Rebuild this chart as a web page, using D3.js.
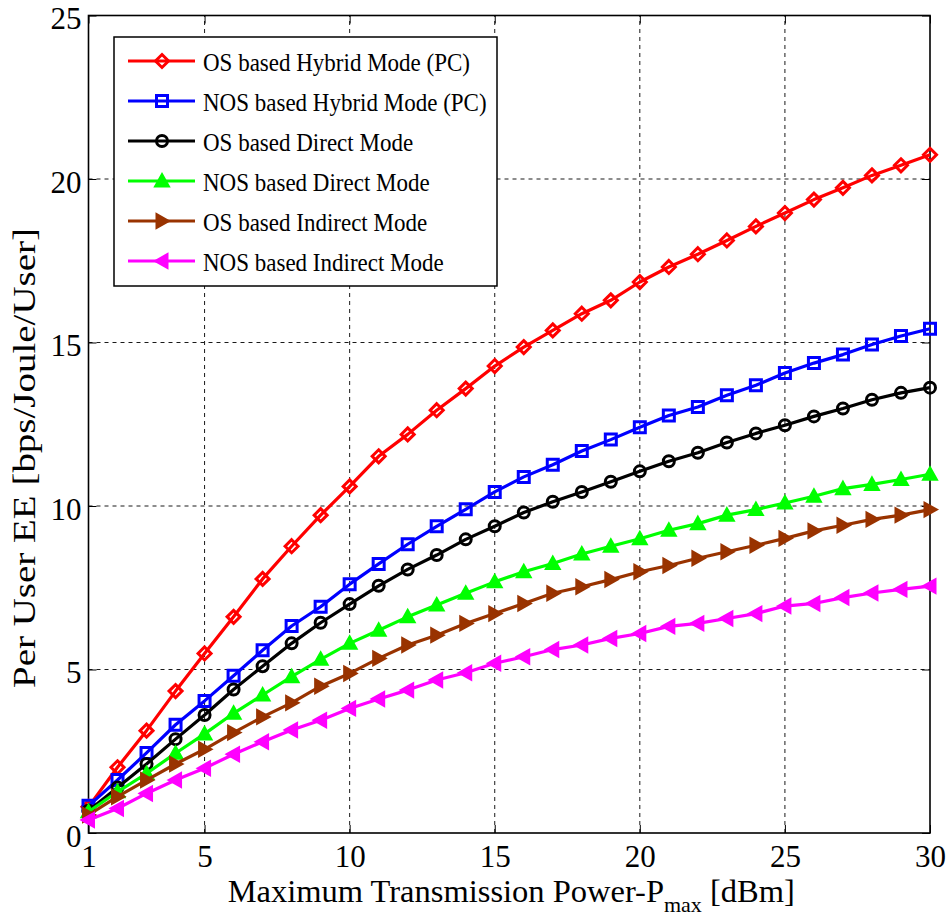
<!DOCTYPE html>
<html>
<head>
<meta charset="utf-8">
<script src="https://cdn.jsdelivr.net/npm/d3@7/dist/d3.min.js"></script>
<style>
  html, body { margin: 0; padding: 0; background: #ffffff; }
  text { font-family: "Liberation Serif", "Times New Roman", serif; fill: #000; }
</style>
</head>
<body>
<svg id="chart" width="948" height="917"></svg>
<script>
// Maximum transmission power (dBm)
const powerDbm = [1, 2, 3, 4, 5, 6, 7, 8, 9, 10, 11, 12, 13, 14, 15,
                  16, 17, 18, 19, 20, 21, 22, 23, 24, 25, 26, 27, 28, 29, 30];

// Per-user energy efficiency [bps/Joule/User]
const osHybridPC = [0.80, 2.01, 3.13, 4.34, 5.49, 6.61, 7.77, 8.77, 9.72, 10.60,
                    11.52, 12.19, 12.93, 13.59, 14.28, 14.86, 15.37, 15.88, 16.29, 16.85,
                    17.31, 17.70, 18.12, 18.55, 18.96, 19.37, 19.73, 20.11, 20.42, 20.74];
const nosHybridPC = [0.83, 1.62, 2.45, 3.31, 4.04, 4.81, 5.59, 6.33, 6.92, 7.61,
                     8.23, 8.83, 9.38, 9.90, 10.43, 10.89, 11.26, 11.68, 12.03, 12.41,
                     12.77, 13.03, 13.39, 13.69, 14.07, 14.37, 14.63, 14.94, 15.20, 15.42];
const osDirect = [0.68, 1.39, 2.11, 2.87, 3.61, 4.39, 5.10, 5.80, 6.43, 7.00,
                  7.56, 8.06, 8.50, 8.98, 9.38, 9.80, 10.13, 10.43, 10.74, 11.06,
                  11.37, 11.63, 11.94, 12.22, 12.47, 12.74, 12.98, 13.25, 13.46, 13.62];
const nosDirect = [0.65, 1.26, 1.82, 2.44, 3.03, 3.66, 4.22, 4.78, 5.31, 5.80,
                   6.20, 6.61, 6.97, 7.33, 7.68, 7.99, 8.24, 8.53, 8.77, 9.00,
                   9.26, 9.46, 9.72, 9.89, 10.09, 10.30, 10.53, 10.66, 10.81, 10.97];
const osIndirect = [0.55, 1.11, 1.62, 2.11, 2.56, 3.07, 3.55, 3.98, 4.49, 4.88,
                    5.34, 5.75, 6.05, 6.41, 6.71, 7.02, 7.33, 7.53, 7.75, 7.99,
                    8.18, 8.40, 8.60, 8.80, 9.01, 9.24, 9.41, 9.59, 9.72, 9.89];
const nosIndirect = [0.40, 0.75, 1.21, 1.62, 1.98, 2.41, 2.79, 3.15, 3.45, 3.81,
                     4.10, 4.37, 4.68, 4.90, 5.19, 5.39, 5.61, 5.75, 5.95, 6.10,
                     6.32, 6.41, 6.56, 6.71, 6.94, 7.02, 7.20, 7.34, 7.45, 7.55];

const seriesNames = ["OS based Hybrid Mode (PC)", "NOS based Hybrid Mode (PC)",
                     "OS based Direct Mode", "NOS based Direct Mode",
                     "OS based Indirect Mode", "NOS based Indirect Mode"];
const seriesValues = [osHybridPC, nosHybridPC, osDirect, nosDirect, osIndirect, nosIndirect];
const seriesColors = ["#ff0000", "#0000ff", "#000000", "#00ff00", "#993300", "#ff00ff"];
const seriesMarkers = ["diamond", "square", "circle", "triUp", "triRight", "triLeft"];

const xTicks = [1, 5, 10, 15, 20, 25, 30];
const yTicks = [0, 5, 10, 15, 20, 25];

const margin = { top: 15.5, right: 18, bottom: 84, left: 88.5 };
const W = 948, H = 917;

const svg = d3.select("#chart");

const x = d3.scaleLinear().domain([1, 30]).range([margin.left, W - margin.right]);
const y = d3.scaleLinear().domain([0, 25]).range([H - margin.bottom, margin.top]);

const x0 = x.range()[0], x1 = x.range()[1];
const y0 = y.range()[0], y1 = y.range()[1];

// dashed grid
const grid = svg.append("g").attr("stroke", "#1a1a1a").attr("stroke-width", 1)
  .attr("stroke-dasharray", "4,4").attr("fill", "none");
grid.selectAll("line.gx").data(xTicks.filter(d => d > 1 && d < 30)).join("line")
  .attr("x1", d => x(d)).attr("x2", d => x(d)).attr("y1", y0).attr("y2", y1);
grid.selectAll("line.gy").data(yTicks.filter(d => d > 0 && d < 25)).join("line")
  .attr("y1", d => y(d)).attr("y2", d => y(d)).attr("x1", x0).attr("x2", x1);

// axes with inward ticks on all four sides
const tickLen = 8;
const axisFont = "31px";
const gxB = svg.append("g").attr("transform", `translate(0,${y0})`)
  .call(d3.axisBottom(x).tickValues(xTicks).tickSizeInner(-tickLen).tickSizeOuter(0).tickPadding(12));
const gxT = svg.append("g").attr("transform", `translate(0,${y1})`)
  .call(d3.axisTop(x).tickValues(xTicks).tickSizeInner(-tickLen).tickSizeOuter(0).tickFormat(""));
const gyL = svg.append("g").attr("transform", `translate(${x0},0)`)
  .call(d3.axisLeft(y).tickValues(yTicks).tickSizeInner(-tickLen).tickSizeOuter(0).tickPadding(7));
const gyR = svg.append("g").attr("transform", `translate(${x1},0)`)
  .call(d3.axisRight(y).tickValues(yTicks).tickSizeInner(-tickLen).tickSizeOuter(0).tickFormat(""));

[gxB, gxT, gyL, gyR].forEach(g => {
  g.select(".domain").remove();
  g.selectAll(".tick line").attr("stroke", "#000").attr("stroke-width", 1);
  g.selectAll(".tick text").attr("font-size", axisFont).attr("fill", "#000");
});
gyL.selectAll(".tick text").attr("dy", "0.42em");

// axes box
svg.append("rect").attr("x", x0).attr("y", y1).attr("width", x1 - x0).attr("height", y0 - y1)
  .attr("fill", "none").attr("stroke", "#000").attr("stroke-width", 1.6);

// marker shapes; triangles are drawn solid
function markerPath(kind) {
  switch (kind) {
    case "diamond": { const r = 6.5; return `M0,${-r}L${r},0L0,${r}L${-r},0Z`; }
    case "square": { const r = 5.5; return `M${-r},${-r}H${r}V${r}H${-r}Z`; }
    case "circle": { const r = 5.5; return `M${r},0A${r},${r} 0 1,1 ${-r},0A${r},${r} 0 1,1 ${r},0Z`; }
    case "triUp": return "M0,-7L7,5.5L-7,5.5Z";
    case "triRight": return "M7,0L-5.5,-7L-5.5,7Z";
    case "triLeft": return "M-7,0L5.5,-7L5.5,7Z";
  }
}
const solidMarker = k => k.startsWith("tri");

const line = d3.line().x(d => x(d[0])).y(d => y(d[1]));

const plot = svg.append("g");
seriesValues.forEach((vals, i) => {
  const pts = powerDbm.map((p, k) => [p, vals[k]]);
  const g = plot.append("g");
  const mk = seriesMarkers[i];
  g.append("path").datum(pts).attr("d", line).attr("fill", "none")
    .attr("stroke", seriesColors[i]).attr("stroke-width", 3.2).attr("stroke-linejoin", "round");
  g.selectAll("path.m").data(pts).join("path").attr("class", "m")
    .attr("d", markerPath(mk))
    .attr("transform", d => `translate(${x(d[0])},${y(d[1])})`)
    .attr("fill", solidMarker(mk) ? seriesColors[i] : "none")
    .attr("stroke", seriesColors[i]).attr("stroke-width", solidMarker(mk) ? 2 : 3)
    .attr("stroke-linejoin", "miter");
});

// legend
const lg = svg.append("g");
lg.append("rect").attr("x", 114).attr("y", 37).attr("width", 383).attr("height", 249)
  .attr("fill", "#fff").attr("stroke", "#000").attr("stroke-width", 1.5);
seriesNames.forEach((name, i) => {
  const cy = 61 + 40 * i;
  const mk = seriesMarkers[i];
  lg.append("line").attr("x1", 128).attr("x2", 195).attr("y1", cy).attr("y2", cy)
    .attr("stroke", seriesColors[i]).attr("stroke-width", 3.2);
  lg.append("path").attr("d", markerPath(mk))
    .attr("transform", `translate(162,${cy})`)
    .attr("fill", solidMarker(mk) ? seriesColors[i] : "none")
    .attr("stroke", seriesColors[i]).attr("stroke-width", solidMarker(mk) ? 2 : 3);
  lg.append("text").attr("transform", `translate(203,${cy + 10}) scale(0.92,1)`)
    .attr("font-size", "25px").text(name);
});

// axis titles
const xl = svg.append("text").attr("x", (x0 + x1) / 2 + 2).attr("y", 902)
  .attr("text-anchor", "middle").attr("font-size", "32.5px");
xl.append("tspan").text("Maximum Transmission Power-P");
xl.append("tspan").attr("font-size", "22px").attr("dy", 10).text("max");
xl.append("tspan").attr("dy", -10).text(" [dBm]");

svg.append("text").attr("transform", `translate(35,458) rotate(-90)`)
  .attr("text-anchor", "middle").attr("font-size", "32px")
  .attr("textLength", 460).attr("lengthAdjust", "spacingAndGlyphs")
  .text("Per User EE [bps/Joule/User]");
</script>
</body>
</html>
